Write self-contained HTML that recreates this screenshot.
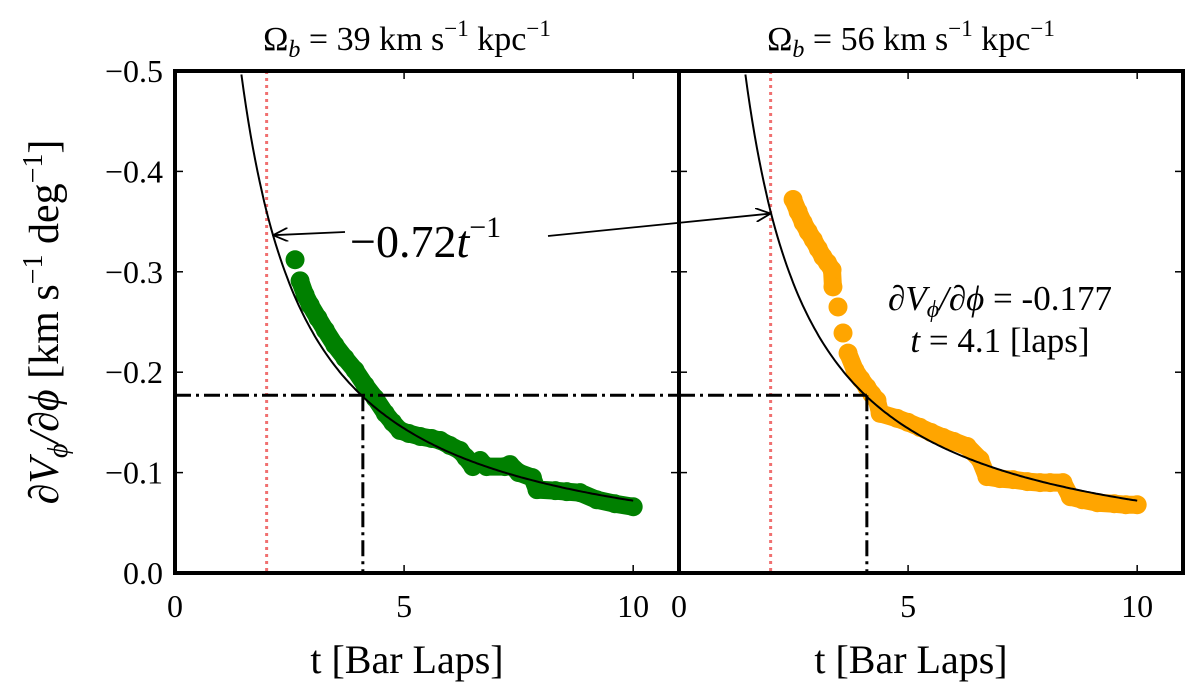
<!DOCTYPE html>
<html><head><meta charset="utf-8"><style>
body{margin:0;background:#fff}
svg text{font-family:"Liberation Serif",serif;fill:#000}
</style></head><body>
<svg id="chart" width="1200" height="694" viewBox="0 0 1200 694">
<defs><marker id="ah" markerWidth="16" markerHeight="14" refX="15" refY="7" orient="auto" markerUnits="userSpaceOnUse"><path d="M0,0 L15,7 L0,14" fill="none" stroke="#000" stroke-width="1.8"/></marker></defs>
<g id="g"></g>
</svg>
<script>
const greenT=[2.62,2.73,2.84,2.95,3.12,3.28,3.49,3.71,3.93,4.15,4.37,4.59,4.75,4.91,5.1,5.35,5.6,5.79,6.0,6.22,6.35,6.5,6.66,6.8,7.2,7.31,7.5,7.8,7.9,8.3,8.55,8.84,9.2,9.6,10.0];
const greenV=[-0.312,-0.291,-0.277,-0.267,-0.254,-0.242,-0.227,-0.214,-0.202,-0.187,-0.174,-0.159,-0.150,-0.142,-0.139,-0.136,-0.134,-0.132,-0.127,-0.122,-0.115,-0.106,-0.112,-0.106,-0.106,-0.108,-0.100,-0.095,-0.083,-0.082,-0.081,-0.080,-0.073,-0.069,-0.066];
const orangeT=[2.49,2.6,2.71,2.82,2.93,3.04,3.14,3.24,3.34,3.36,3.47,3.58,3.69,3.84,3.97,4.10,4.21,4.32,4.39,4.76,5.0,5.26,5.5,5.76,6.0,6.29,6.57,6.72,7.0,7.29,7.6,7.88,8.1,8.38,8.54,8.8,9.13,9.5,9.75,10.0];
const orangeV=[-0.372,-0.360,-0.349,-0.340,-0.332,-0.323,-0.315,-0.309,-0.302,-0.285,-0.265,-0.239,-0.219,-0.202,-0.193,-0.185,-0.178,-0.172,-0.159,-0.154,-0.150,-0.145,-0.140,-0.135,-0.131,-0.126,-0.113,-0.096,-0.094,-0.093,-0.091,-0.090,-0.090,-0.090,-0.076,-0.073,-0.070,-0.069,-0.068,-0.068];
const xTicks=[0,5,10];
const yTicks=[0.0,-0.1,-0.2,-0.3,-0.4,-0.5];
const yTickLabels=["0.0","\u22120.1","\u22120.2","\u22120.3","\u22120.4","\u22120.5"];
const fitCoef=-0.72, hLine=-0.177, vLine=4.1, redLine=2.0;
const panels=[{x0:175,title:"39",t:greenT,v:greenV,c:"#008000",name:"omega-39"},{x0:679,title:"56",t:orangeT,v:orangeV,c:"#ffa500",name:"omega-56"}];
const Y0=573,Y1=71,PW=504;
const sx=(p,t)=>p.x0+t*(PW/11);
const NS="http://www.w3.org/2000/svg";
const g=document.getElementById('g');
function mk(tag,attrs,parent){const e=document.createElementNS(NS,tag);for(const k in attrs)e.setAttribute(k,attrs[k]);(parent||g).appendChild(e);return e;}
function yy(v){return Y0-(-v)*(Y0-Y1)/0.5;}
panels.forEach((p,pi)=>{
  const pg=mk('g',{});
  
  
  let e=mk('line',{x1:sx(p,redLine),x2:sx(p,redLine),y1:Y1,y2:Y0,stroke:'#f07070','stroke-width':3,'stroke-dasharray':'3,4'},pg);
  
  
  for(let i=1;i<p.t.length;i++){
    const x1=sx(p,p.t[i-1]),y1=yy(p.v[i-1]),x2=sx(p,p.t[i]),y2=yy(p.v[i]);
    if(Math.hypot(x2-x1,y2-y1)<19.5){
      const s=mk('line',{x1:x1,y1:y1,x2:x2,y2:y2,stroke:p.c,'stroke-width':18,'stroke-linecap':'round'},pg);
      
      
    }
  }
  p.t.forEach((t,i)=>{const c=mk('circle',{cx:sx(p,t),cy:yy(p.v[i]),r:9.5,fill:p.c},pg);
    
    });
  let d='';for(let t=0.5;t<=10.001;t+=0.05){const v=fitCoef/t;if(v<-0.5)continue;d+=(d?'L':'M')+sx(p,t).toFixed(1)+','+yy(v).toFixed(1);}
  e=mk('path',{d:d,fill:'none',stroke:'#000','stroke-width':2},pg);
  
  
  e=mk('line',{x1:p.x0,x2:pi==0?p.x0+PW:sx(p,vLine),y1:yy(hLine),y2:yy(hLine),stroke:'#000','stroke-width':3,'stroke-dasharray':'16,5,3,5'},pg);
  
  
  e=mk('line',{x1:sx(p,vLine),x2:sx(p,vLine),y1:yy(hLine),y2:Y0,stroke:'#000','stroke-width':3,'stroke-dasharray':'16,5,3,5'},pg);
  
  
  e=mk('rect',{x:p.x0,y:Y1,width:PW,height:Y0-Y1,fill:'none',stroke:'#000','stroke-width':4},pg);
  
  
  xTicks.forEach(t=>{const x=sx(p,t);
    mk('line',{x1:x,x2:x,y1:Y0,y2:Y0-8,stroke:'#000','stroke-width':1.5},pg);
    mk('line',{x1:x,x2:x,y1:Y1,y2:Y1+8,stroke:'#000','stroke-width':1.5},pg);
    const tx=mk('text',{x:x,y:Y0+44,'text-anchor':'middle','font-size':32},pg);tx.textContent=t;
    
    });
  yTicks.forEach((v,i)=>{const y=yy(v);
    mk('line',{x1:p.x0,x2:p.x0+8,y1:y,y2:y,stroke:'#000','stroke-width':1.5},pg);
    mk('line',{x1:p.x0+PW,x2:p.x0+PW-8,y1:y,y2:y,stroke:'#000','stroke-width':1.5},pg);
    if(pi==0){const tx=mk('text',{x:p.x0-12,y:y+11,'text-anchor':'end','font-size':32},pg);tx.textContent=yTickLabels[i];
      
      }});
  const xl=mk('text',{x:p.x0+PW/2-20,y:673,'text-anchor':'middle','font-size':40},pg);xl.textContent='t [Bar Laps]';
  
  
  const ti=mk('text',{x:p.x0+PW/2-20,y:50,'text-anchor':'middle','font-size':34},pg);
  ti.innerHTML='\u03A9<tspan font-style="italic" font-size="24" dy="7">b</tspan><tspan dy="-7"> = '+p.title+' km s</tspan><tspan font-size="23" dy="-14">\u22121</tspan><tspan dy="14"> kpc</tspan><tspan font-size="23" dy="-14">\u22121</tspan>';
  
  
});
let yl=mk('text',{transform:'translate(58,322) rotate(-90)','text-anchor':'middle','font-size':42});
yl.innerHTML='<tspan font-style="italic">\u2202V</tspan><tspan font-style="italic" font-size="28" dy="9">\u03D5</tspan><tspan dy="-9" font-style="italic">/\u2202\u03D5</tspan> [km s<tspan font-size="28" dy="-16">\u22121</tspan><tspan dy="16"> deg</tspan><tspan font-size="28" dy="-16">\u22121</tspan><tspan dy="16">]</tspan>';


let an=mk('text',{x:350,y:257,'font-size':46});
an.innerHTML='\u22120.72<tspan font-style="italic">t</tspan><tspan font-size="30" dy="-20">\u22121</tspan>';


let a1=mk('line',{x1:345,y1:232,x2:sx(panels[0],2.14),y2:yy(fitCoef/2.14),stroke:'#000','stroke-width':1.8,'marker-end':'url(#ah)'});


let a2=mk('line',{x1:548,y1:236,x2:sx(panels[1],2.0),y2:yy(fitCoef/2.0)+2,stroke:'#000','stroke-width':1.8,'marker-end':'url(#ah)'});


let r1=mk('text',{x:1000,y:310,'text-anchor':'middle','font-size':35});
r1.innerHTML='<tspan font-style="italic">\u2202V</tspan><tspan font-style="italic" font-size="24" dy="7">\u03D5</tspan><tspan dy="-7" font-style="italic">/\u2202\u03D5</tspan> = -0.177';


let r2=mk('text',{x:1000,y:352,'text-anchor':'middle','font-size':35});
r2.innerHTML='<tspan font-style="italic">t</tspan> = 4.1 [laps]';


</script>
</body></html>
